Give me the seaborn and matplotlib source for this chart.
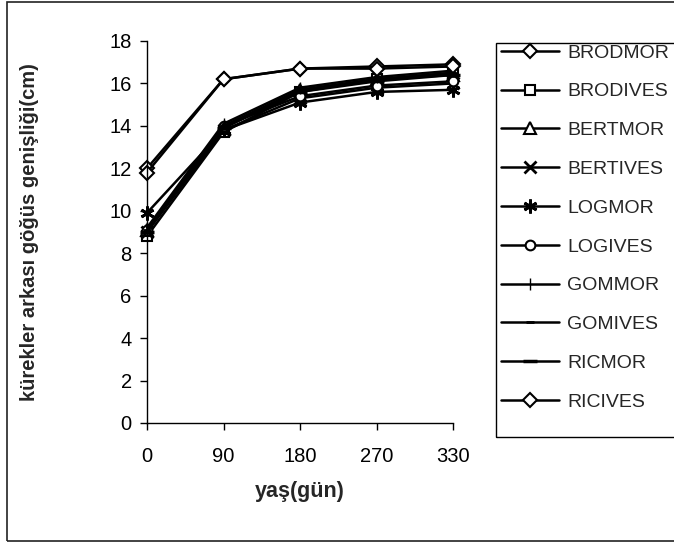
import pandas as pd
import matplotlib
matplotlib.use("Agg")
import matplotlib.pyplot as plt
import seaborn as sns
from matplotlib.patches import Rectangle

# chart data
days = ["0", "90", "180", "270", "330"]
series_names = ["BRODMOR", "BRODIVES", "BERTMOR", "BERTIVES", "LOGMOR",
                "LOGIVES", "GOMMOR", "GOMIVES", "RICMOR", "RICIVES"]
brodmor = [12.0, 16.2, 16.7, 16.8, 16.9]
brodives = [8.8, 13.7, 15.6, 16.2, 16.5]
bertmor = [9.1, 13.9, 15.7, 16.2, 16.4]
bertives = [9.0, 13.8, 15.3, 15.8, 16.0]
logmor = [9.9, 13.8, 15.1, 15.6, 15.7]
logives = [9.1, 14.0, 15.4, 15.9, 16.1]
gommor = [9.2, 14.1, 15.8, 16.3, 16.6]
gomives = [9.1, 14.0, 15.7, 16.2, 16.5]
ricmor = [9.0, 13.9, 15.6, 16.1, 16.4]
ricives = [11.8, 16.2, 16.7, 16.7, 16.8]
all_values = [brodmor, brodives, bertmor, bertives, logmor,
              logives, gommor, gomives, ricmor, ricives]

# marker look per series (Excel-style open markers)
marker_styles = {
    "BRODMOR": dict(marker="D", markersize=7),
    "BRODIVES": dict(marker="s", markersize=7),
    "BERTMOR": dict(marker="^", markersize=8),
    "BERTIVES": dict(marker="x", markersize=8, markeredgewidth=2),
    "LOGMOR": dict(marker=(6, 2, 0), markersize=10, markeredgewidth=2),
    "LOGIVES": dict(marker="o", markersize=7),
    "GOMMOR": dict(marker="|", markersize=9, markeredgewidth=1),
    "GOMIVES": dict(marker="_", markersize=6, markeredgewidth=2),
    "RICMOR": dict(marker="_", markersize=10, markeredgewidth=2.5),
    "RICIVES": dict(marker="D", markersize=7),
}

rows = []
for name, vals in zip(series_names, all_values):
    for i, (d, v) in enumerate(zip(days, vals)):
        rows.append({"series": name, "pos": i, "day": d, "value": v})
df = pd.DataFrame(rows)

sns.set_style("white")
plt.rcParams["font.family"] = ["Liberation Sans", "DejaVu Sans"]

fig = plt.figure(figsize=(6.74, 5.45), dpi=100)
ax = fig.add_axes([147 / 674, 1 - 423 / 545, 306 / 674, 382 / 545])

for name in series_names:
    sub = df[df["series"] == name]
    style = dict(marker_styles[name])
    style.setdefault("markeredgewidth", 1.5)
    sns.lineplot(data=sub, x="pos", y="value", ax=ax, label=name,
                 color="black", linewidth=1.8, markerfacecolor="white",
                 markeredgecolor="black", clip_on=False, **style)

ax.set_xlim(0, len(days) - 1)
ax.set_ylim(0, 18)
ax.set_xticks(range(len(days)))
ax.set_xticklabels(days)
ax.set_yticks(range(0, 19, 2))
ax.tick_params(axis="both", direction="out", length=5, width=1,
               colors="black", labelsize=14.5, pad=6, left=True, bottom=True)
ax.tick_params(axis="x", pad=12)
for side in ["top", "right"]:
    ax.spines[side].set_visible(False)
for side in ["left", "bottom"]:
    ax.spines[side].set_color("black")
    ax.spines[side].set_linewidth(1)

ax.set_xlabel("")
ax.set_ylabel("")
fig.text(300 / 674, 1 - 492 / 545, "yaş(gün)", fontsize=15.5,
         fontweight="bold", ha="center", va="center")
fig.text(30 / 674, 1 - 232 / 545, "kürekler arkası göğüs genişliği(cm)",
         fontsize=14.5, fontweight="bold", rotation=90,
         ha="center", va="center")

handles, labels = ax.get_legend_handles_labels()
ax.legend_.remove()
leg = fig.legend(handles, labels, loc="upper left",
                 bbox_to_anchor=(501 / 674, 1 - 44 / 545),
                 fontsize=14, frameon=False, labelspacing=1.09,
                 handlelength=3.0, handletextpad=0.4, borderpad=0,
                 borderaxespad=0)

# legend box and outer chart border
fig.patches.append(Rectangle((496 / 674, 1 - 437 / 545), 200 / 674,
                             394 / 545, transform=fig.transFigure,
                             fill=False, edgecolor="black", linewidth=1))
fig.patches.append(Rectangle((7 / 674, 1 - 541 / 545), 700 / 674,
                             539 / 545, transform=fig.transFigure,
                             fill=False, edgecolor="#222222", linewidth=1.2))

fig.savefig("out.png", dpi=100)
